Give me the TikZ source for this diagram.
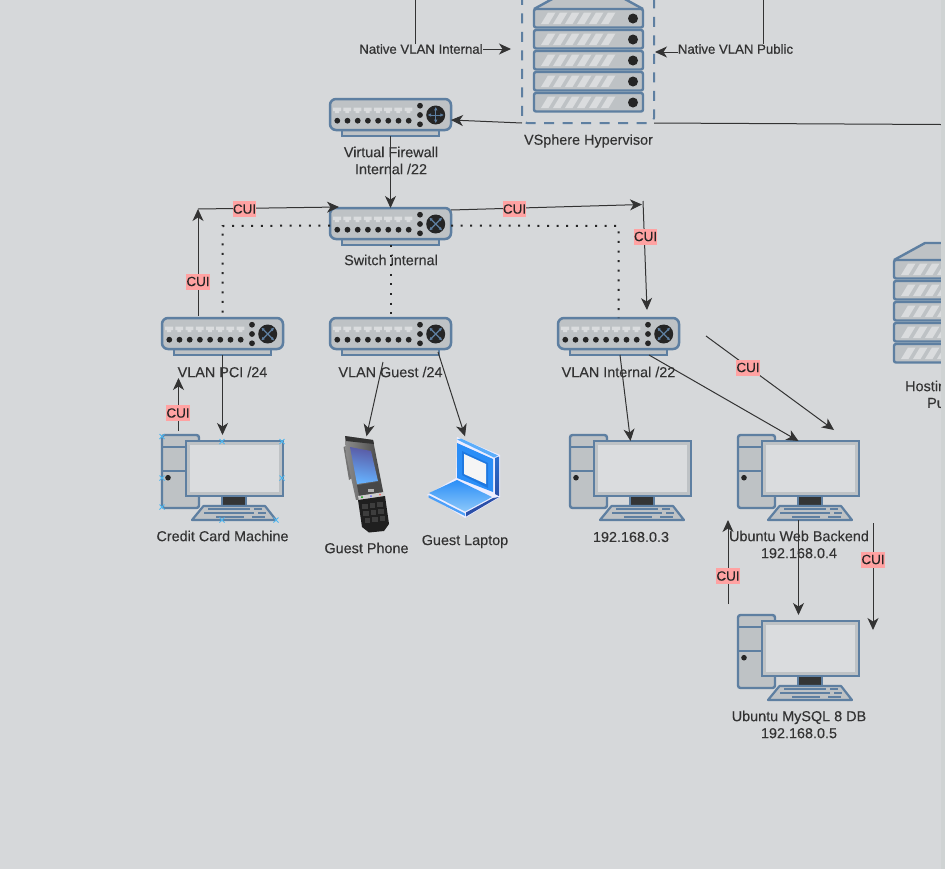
\documentclass[tikz,border=0pt]{standalone}
\usepackage{fontspec}
\setmainfont[FakeBold=0.12]{Liberation Sans}
\newfontfamily\fbfont[FakeBold=0.6]{Liberation Sans}
\newfontfamily\lfont[FakeBold=0.15]{Liberation Sans}
\usetikzlibrary{arrows.meta,calc}
\definecolor{bgc}{HTML}{D6D8DA}
\definecolor{stripc}{HTML}{CFD3D3}
\definecolor{edgec}{HTML}{5E7FA1}
\definecolor{bodyc}{HTML}{BEC2C5}
\definecolor{stripec}{HTML}{DADCDE}
\definecolor{inkc}{HTML}{252525}
\definecolor{txtc}{HTML}{333333}
\definecolor{cuic}{HTML}{FFA2A2}
\definecolor{hdlc}{HTML}{4DB6F0}
\definecolor{lineg}{HTML}{333333}
\definecolor{lapa}{HTML}{2B8EF7}
\definecolor{lapb}{HTML}{1F78E0}
\definecolor{lapc}{HTML}{5BADFA}
\definecolor{lapd}{HTML}{2A4FA8}
\definecolor{lape}{HTML}{8CC8FA}
\tikzset{
  lbl/.style={font=\lfont\fontsize{14.4}{17}\selectfont,text=txtc,align=center,inner sep=0pt},
  vlbl/.style={font=\fbfont\fontsize{13.2}{16}\selectfont,text=txtc,inner sep=0pt},
  cui/.style={fill=cuic,font=\lfont\fontsize{13.4}{16}\selectfont,text=inkc,inner sep=0pt,minimum width=22.5pt,minimum height=16pt},
  conn/.style={draw=lineg,line width=1pt},
  arr/.style={conn,-{Stealth[length=12pt,width=11pt,inset=3.5pt]}},
  dots/.style={draw=inkc,line width=2pt,dash pattern=on 2pt off 7.6pt},
  anchorbox/.style={inner sep=0pt,outer sep=0pt,minimum width=#1},
  devn/.style={anchorbox=121pt,minimum height=37pt},
  pcn/.style={anchorbox=121pt,minimum height=85pt},
  ports/.pic={
    \draw[edgec,line width=2pt,fill=bodyc] (12,31) rectangle (109,37);
    \draw[edgec,line width=2.5pt,fill=bodyc,rounded corners=6pt] (0,0) rectangle (121,31);
    \foreach \i in {0,...,7}{
      \fill[stripec] (3.2+10.2*\i,8.5) -- (11+10.2*\i,8.5) -- (11+10.2*\i,12) -- (9+10.2*\i,12) -- (9+10.2*\i,14) -- (5.2+10.2*\i,14) -- (5.2+10.2*\i,12) -- (3.2+10.2*\i,12) -- cycle;
      \fill[inkc] (7.3+10.2*\i,21.7) circle (2.9);
    }
    \foreach \y in {6.7,16,25.3}{\fill[inkc] (90,\y) circle (2.9);}
    \fill[inkc] (105.7,16) circle (9.5);
  },
  switchdev/.pic={
    \pic {ports};
    \draw[edgec,line width=1.3pt,{Latex[length=3.5pt,width=3.5pt]}-{Latex[length=3.5pt,width=3.5pt]}] (99.2,9.5) -- (112.2,22.5);
    \draw[edgec,line width=1.3pt,{Latex[length=3.5pt,width=3.5pt]}-{Latex[length=3.5pt,width=3.5pt]}] (112.2,9.5) -- (99.2,22.5);
  },
  routerdev/.pic={
    \pic {ports};
    \draw[edgec,line width=1pt,{Latex[length=3.5pt,width=3.5pt]}-{Latex[length=3.5pt,width=3.5pt]}] (97.5,16) -- (113.9,16);
    \draw[edgec,line width=1pt,{Latex[length=3.5pt,width=3.5pt]}-{Latex[length=3.5pt,width=3.5pt]}] (105.7,7.8) -- (105.7,24.2);
  },
  serverdev/.pic={
    \fill[bodyc] (0,0) -- (31,-17) -- (78,-17) -- (109,0) -- cycle;
    \draw[edgec,line width=2.4pt,line join=round] (0,0) -- (31,-17) -- (78,-17) -- (109,0);
    \foreach \r in {0,1,2,3,4}{
      \begin{scope}[yshift=-21*\r]
        \draw[edgec,line width=2.4pt,fill=bodyc,rounded corners=2pt] (0,0) rectangle (109,18.5);
        \foreach \i in {0,...,5}{
          \fill[stripec] (7+12*\i,15) -- (14.5+12*\i,15) -- (21.5+12*\i,3.5) -- (14+12*\i,3.5) -- cycle;
        }
        \fill[inkc] (99,9.5) circle (5);
      \end{scope}
    }
  },
  computer/.pic={
    \draw[edgec,line width=2.4pt,fill=bodyc,rounded corners=2.5pt] (0,0) rectangle (37,73);
    \draw[edgec,line width=2.4pt] (0,12) -- (25,12) (0,36) -- (25,36);
    \fill[inkc] (6,42.7) circle (2.8);
    \fill[inkc!90!bodyc] (60,61) rectangle (84,70);
    \draw[edgec,line width=2.4pt] (60,61) rectangle (84,71);
    \fill[bodyc] (24,6) rectangle (121,61);
    \fill[stripec] (28,10) rectangle (117,57);
    \draw[edgec,line width=2.4pt] (24,6) rectangle (121,61);
    \draw[edgec,line width=2.2pt,fill=bodyc,line join=round] (30,85) -- (41.5,71) -- (103,71) -- (114,85) -- cycle;
    \draw[edgec,line width=1.7pt] (46,74) -- (88,74) (92,74) -- (100,74) (42,78) -- (92,78) (96,78) -- (104,78) (54,82) -- (82,82) (90,82) -- (103,82);
  },
  handle/.pic={
    \draw[hdlc,line width=1pt] (-2.5,-2.5) -- (2.5,2.5) (-2.5,2.5) -- (2.5,-2.5);
  }
}
\begin{document}
\begin{tikzpicture}[x=1pt,y=-1pt]
\useasboundingbox (0,0) rectangle (945,868);
\clip (-2,-2) rectangle (947,870);
\fill[bgc] (-2,-2) rectangle (947,870);

% device anchor nodes
\node[anchorbox=132pt,minimum height=133pt,draw=edgec,line width=2pt,dash pattern=on 10pt off 8.5pt,rounded corners=5pt] (hv) at (588,56.5) {};
\node[devn] (fw) at (390.5,117.5) {};
\node[devn] (sw) at (390.5,226.5) {};
\node[devn] (vpci) at (222.5,336.5) {};
\node[devn] (vguest) at (390.5,336.5) {};
\node[devn] (vint) at (618.5,336.5) {};
\node[pcn] (cc) at (222.5,477.5) {};
\node[pcn] (pcthree) at (630.5,477.5) {};
\node[pcn] (web) at (798.5,477.5) {};
\node[pcn] (db) at (798.5,657.5) {};
\node[inner sep=0pt,minimum width=45pt,minimum height=97pt] (phone) at (366.5,484) {};
\node[inner sep=0pt,minimum width=73pt,minimum height=82pt] (laptop) at (463.5,477) {};

% device drawings
\pic at (534,9) {serverdev};
\pic at (894,260) {serverdev};
\pic at (330,99) {routerdev};
\pic at (330,208) {switchdev};
\pic at (162,318) {switchdev};
\pic at (330,318) {switchdev};
\pic at (558,318) {switchdev};
\pic at (162,435) {computer};
\pic at (570,435) {computer};
\pic at (738,435) {computer};
\pic at (738,615) {computer};

% phone
\fill[black!55] (343.5,447) -- (346,446) -- (352,478) -- (349,480) -- cycle;
\shade[left color=black!45,right color=black!75] (345,436) -- (373,440) -- (384,496) -- (356,500) -- (346,455) -- cycle;
\fill[black!80] (345,436) -- (373,440) -- (374,444) -- (346,441) -- cycle;
\shade[top color=black!55!blue!65,bottom color=cyan!50!blue!60,shading angle=-10] (350,447) -- (371,451) -- (378,481) -- (357,484) -- cycle;
\fill[black!72] (357,485) -- (378,482) -- (383,492) -- (359,496) -- cycle;
\fill[black!30] (368,489) rectangle (374,492);
\fill[black!20] (358,496) -- (384,492) -- (385,497) -- (359,501) -- cycle;
\fill[green!60!black] (362,497) circle (1);
\fill[blue!60] (371,496) circle (1);
\fill[red!60] (380,494.5) circle (1);
\fill[black!88] (358,500) -- (385,496) -- (389,524) -- (384,531) -- (369,532.5) -- (362,527) -- cycle;
\foreach \a in {0,1,2}{\foreach \b in {0,1,2}{
  \fill[black!76] ($(362,504)+(\a*7.5,-\a*1)+(\b*1.3,\b*7)$) rectangle +(5.5,5);
}}

% laptop
\fill[white!93!blue] (457,437) -- (500,455) -- (500,497) -- (465,518) -- (427,495) -- (456,478) -- cycle;
\fill[lapc] (457,439.5) -- (461,438.5) -- (498,455.5) -- (494,457.5) -- cycle;
\fill[lapa] (457,443) -- (493,459) -- (493,492) -- (457,478) -- cycle;
\fill[lapb] (462,451) -- (488,463) -- (488,488) -- (462,475) -- cycle;
\fill[white!92!gray] (464,454) -- (486,464) -- (486,484) -- (464,474) -- cycle;
\shade[top color=lapd!50!lapa,bottom color=lapd] (495,458) -- (499,456.5) -- (499,496) -- (495,494) -- cycle;
\shade[top color=lapa,bottom color=lape] (429,493) -- (457,480) -- (492,497) -- (465,511.5) -- cycle;
\fill[lapa!85!white] (428.5,495) -- (465,513.5) -- (465,516) -- (428.5,497.5) -- cycle;
\fill[lapd] (466,512.5) -- (493,498) -- (499,497) -- (466,516.5) -- cycle;

% labels
\node[lbl] (lhv) at (588.5,141) {VSphere Hypervisor};
\node[lbl] (lfw) at (391,160.5) {Virtual Firewall\\Internal /22};
\node[lbl] (lsw) at (391,260) {Switch internal};
\node[lbl] (lpci) at (222.5,372) {VLAN PCI /24};
\node[lbl] (lguest) at (390.5,372) {VLAN Guest /24};
\node[lbl] (lint) at (618.5,372) {VLAN Internal /22};
\node[lbl] (lcc) at (222.5,536) {Credit Card Machine};
\node[lbl] (lph) at (366.5,548) {Guest Phone};
\node[lbl] (llap) at (465,541.5) {Guest Laptop};
\node[lbl] (lthree) at (631,537) {192.168.0.3};
\node[lbl] (lweb) at (799,544.5) {Ubuntu Web Backend\\192.168.0.4};
\node[lbl] (ldb) at (799,724.5) {Ubuntu MySQL 8 DB\\192.168.0.5};
\node[lbl,anchor=west] (lhost) at (905,386) {Hostin};
\node[lbl,anchor=west] (lpub) at (927,403) {Pu};
\node[vlbl] (nvi) at (421,49) {Native VLAN Internal};
\node[vlbl] (nvp) at (735.5,49) {Native VLAN Public};

% free ends
\coordinate (topa) at (415,0);
\coordinate (topb) at (763,0);
\coordinate (nvibox) at (511,49);
\coordinate (nvpbox) at (655,52);
\coordinate (farright) at (941,124.5);
\coordinate (corner) at (198,209);
\coordinate (swin) at (339,207);
\coordinate (rc) at (642,204.5);
\coordinate (rt) at (643,201);
\coordinate (vinttop) at (647,310);
\coordinate (mid) at (706,336);
\coordinate (webnear) at (834,430);
\coordinate (dotl) at (222.5,226);
\coordinate (dotr) at (618.5,226);
\coordinate (ccup) at (178.5,431);
\coordinate (ccupe) at (178.5,378);
\coordinate (wuna) at (728,604);
\coordinate (wunb) at (728,520);
\coordinate (wdna) at (873,523);
\coordinate (wdnb) at (873,630);

% dotted links
\draw[dots] ([yshift=1pt]sw.west) -- (dotl) -- (vpci.north);
\draw[dots] ([yshift=1pt]sw.east) -- (dotr) -- (vint.north);
\draw[dots] (sw.south) -- (vguest.north);

% connectors
\draw[conn] (topa) -- (nvi.north -| topa);
\draw[conn] (topb) -- (nvp.north -| topb);
\draw[arr] (nvi.east) -- (nvibox);
\draw[arr] (nvp.west |- nvpbox) -- (nvpbox);
\draw[arr] (hv.south west) -- ([yshift=-2.5pt]fw.east);
\draw[conn] (hv.south east) -- (farright);
\draw[arr] (fw.south) -- (sw.north);
\draw[arr] ([xshift=-24.5pt,yshift=2pt]vpci.north) -- (corner);
\draw[arr] (corner) -- (swin);
\draw[arr] ([yshift=16.5pt]sw.east) -- (rc);
\draw[arr] (rt) -- (vinttop);
\draw[arr] (vpci.south) -- (cc.north);
\draw[arr] (ccup) -- (ccupe);
\draw[arr] ([xshift=-7.5pt,yshift=-7pt]vguest.south) -- ([yshift=-1pt]phone.north);
\draw[arr] ([xshift=47.5pt,yshift=3pt]vguest.south) -- ([xshift=1.5pt,yshift=-0.5pt]laptop.north);
\draw[arr] ([xshift=1.5pt]vint.south) -- ([yshift=-6pt]pcthree.north);
\draw[arr] ([xshift=30.5pt]vint.south) -- ([yshift=-6pt]web.north);
\draw[arr] (mid) -- (webnear);
\draw[arr] (web.south) -- (db.north);
\draw[arr] (wuna) -- (wunb);
\draw[arr] (wdna) -- (wdnb);

% CUI tags
\node[cui] (c1) at (244.5,209) {CUI};
\node[cui] (c2) at (198,281.5) {CUI};
\node[cui] (c3) at (514.5,209) {CUI};
\node[cui] (c4) at (645.5,236.5) {CUI};
\node[cui] (c5) at (178,413) {CUI};
\node[cui] (c6) at (748,367.5) {CUI};
\node[cui] (c7) at (728,576) {CUI};
\node[cui] (c8) at (873,559.5) {CUI};

% selection handles
\foreach \p in {(162,436.5),(222,441.5),(282,441.5),(162,478),(282,478),(162,507),(222,520),(276,520)}{
  \pic at \p {handle};
}
% right strip
\fill[stripc] (941,-2) rectangle (947,870);
\end{tikzpicture}
\end{document}
